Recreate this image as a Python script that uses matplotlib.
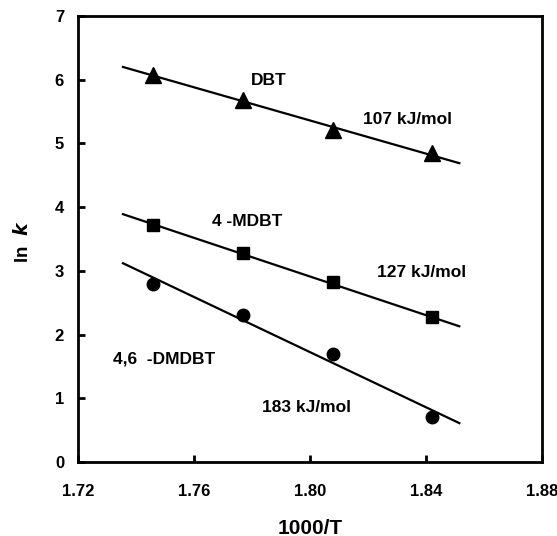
import numpy as np
import matplotlib.pyplot as plt

plt.rcParams['font.family'] = ['Liberation Sans', 'DejaVu Sans']
plt.rcParams['font.weight'] = 'bold'

# data
inv_T = [1.746, 1.777, 1.808, 1.842]
lnk_dbt = [6.07, 5.68, 5.21, 4.85]
lnk_mdbt = [3.72, 3.28, 2.83, 2.27]
lnk_dmdbt = [2.80, 2.30, 1.70, 0.70]

# fitted lines (ends)
fit_x = [1.7355, 1.8515]
fit_dbt = [6.20, 4.69]
fit_mdbt = [3.89, 2.13]
fit_dmdbt = [3.12, 0.61]

fig = plt.figure(figsize=(5.57, 5.36), dpi=100)
ax = fig.add_axes([78/557, 1 - 462/536, (542-78)/557, (462-16)/536])

ax.plot(fit_x, fit_dbt, color='black', lw=1.6)
ax.plot(fit_x, fit_mdbt, color='black', lw=1.6)
ax.plot(fit_x, fit_dmdbt, color='black', lw=1.6)

ax.plot(inv_T, lnk_dbt, '^', color='black', ms=11, ls='none')
ax.plot(inv_T, lnk_mdbt, 's', color='black', ms=9, ls='none')
ax.plot(inv_T, lnk_dmdbt, 'o', color='black', ms=9, ls='none')

fs = 12.5
ax.text(1.7797, 5.98, 'DBT', fontsize=fs, fontweight='bold', ha='left', va='center')
ax.text(1.8183, 5.37, '107 kJ/mol', fontsize=fs, fontweight='bold', ha='left', va='center')
ax.text(1.7662, 3.77, '4 -MDBT', fontsize=fs, fontweight='bold', ha='left', va='center')
ax.text(1.8231, 2.97, '127 kJ/mol', fontsize=fs, fontweight='bold', ha='left', va='center')
ax.text(1.7321, 1.62, '4,6  -DMDBT', fontsize=fs, fontweight='bold', ha='left', va='center')
ax.text(1.7834, 0.86, '183 kJ/mol', fontsize=fs, fontweight='bold', ha='left', va='center')

ax.set_xlim(1.72, 1.88)
ax.set_ylim(0, 7)
ax.set_xticks([1.72, 1.76, 1.80, 1.84, 1.88])
ax.set_xticklabels(['1.72', '1.76', '1.80', '1.84', '1.88'], fontweight='bold')
ax.set_yticks(range(0, 8))
ax.set_yticklabels([str(v) for v in range(0, 8)], fontweight='bold')
ax.tick_params(direction='in', length=5, width=2, labelsize=12)
ax.tick_params(axis='x', pad=16)
ax.tick_params(axis='y', pad=10)
for s in ax.spines.values():
    s.set_linewidth(2)

ax.set_xlabel('1000/T', fontsize=15, fontweight='bold', va='center')
ax.xaxis.set_label_coords(0.5, -0.148)
ax.set_ylabel(r'ln  $\mathbf{\mathit{k}}$', fontsize=13.5, fontweight='bold', va='center')
ax.yaxis.set_label_coords(-0.12, 0.493)

fig.savefig('out.png', dpi=100)
